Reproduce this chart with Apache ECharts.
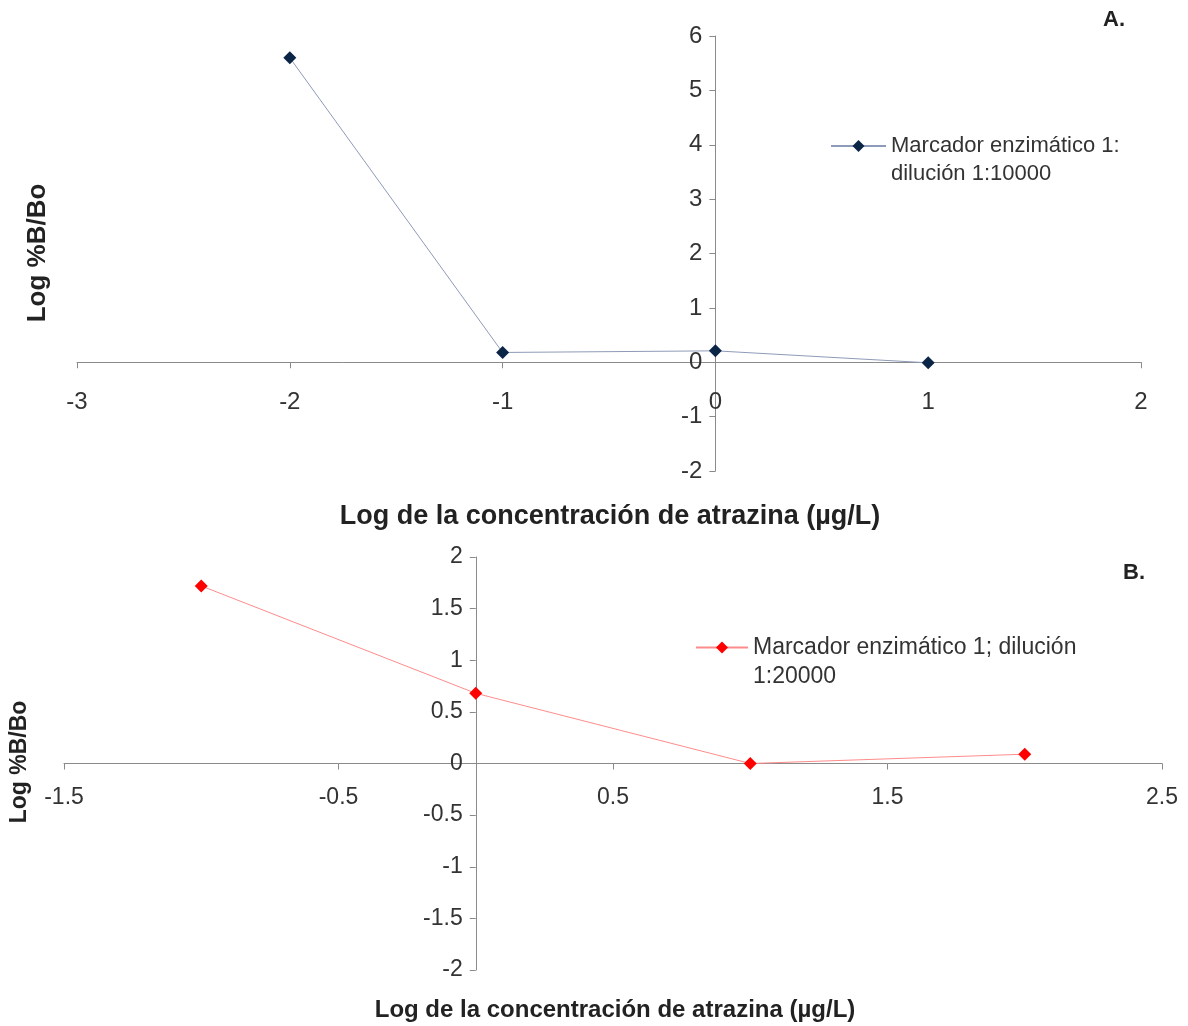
<!DOCTYPE html>
<html><head><meta charset="utf-8">
<script src="https://cdn.jsdelivr.net/npm/echarts@6/dist/echarts.min.js"></script>
<style>html,body{margin:0;padding:0;background:#fff}#c{width:1188px;height:1026px}</style>
</head><body><div id="c"></div>
<script>
// Panel A data
const xA = [-2, -1, 0, 1];
const yA = [5.6, 0.18, 0.21, -0.01];
const nameA = 'Marcador enzimático 1: dilución 1:10000';
const legendLinesA = ['Marcador enzimático 1:', 'dilución 1:10000'];
// Panel B data
const xB = [-1, 0, 1, 2];
const yB = [1.72, 0.68, 0, 0.09];
const nameB = 'Marcador enzimático 1; dilución 1:20000';
const legendLinesB = ['Marcador enzimático 1; dilución', '1:20000'];
// Axis ranges and tick intervals
const xRangeA = [-3, 2], yRangeA = [-2, 6];
const xRangeB = [-1.5, 2.5], yRangeB = [-2, 2];
const xTitle = 'Log de la concentración de atrazina (µg/L)';
const yTitle = 'Log %B/Bo';

const FONT = "'Liberation Sans', Arial, sans-serif";
const AX = '#8a8a8a';
const LBL = '#333';
const W = 1188, H = 1026;

// grid layout (pixels)
const gA = {left: 77, right: 47, top: 36, height: 435};
const gB = {left: 64, right: 26, top: 557, height: 413};
function zeroOffsets(g, xr, yr) {
  const w = W - g.left - g.right;
  const xo = -((0 - yr[0]) / (yr[1] - yr[0])) * g.height;
  const yo = -((0 - xr[0]) / (xr[1] - xr[0])) * w;
  return {xo, yo};
}
const oA = zeroOffsets(gA, xRangeA, yRangeA);
const oB = zeroOffsets(gB, xRangeB, yRangeB);

const chart = echarts.init(document.getElementById('c'), null, {renderer: 'canvas'});

function axisCommon(margin, fs) {
  return {
    type: 'value',
    axisLine: {show: true, onZero: false, lineStyle: {color: AX, width: 1}},
    axisTick: {show: true, inside: false, length: 6, lineStyle: {color: AX}},
    axisLabel: {margin: margin, fontSize: fs, color: LBL, fontFamily: FONT, hideOverlap: false},
    splitLine: {show: false}
  };
}

const option = {
  backgroundColor: '#ffffff',
  animation: false,
  grid: [
    Object.assign({containLabel: false}, gA),
    Object.assign({containLabel: false}, gB)
  ],
  xAxis: [
    Object.assign(axisCommon(28, 24), {gridIndex: 0, position: 'bottom', offset: oA.xo, min: xRangeA[0], max: xRangeA[1], interval: 1}),
    Object.assign(axisCommon(23, 23), {gridIndex: 1, position: 'bottom', offset: oB.xo, min: xRangeB[0], max: xRangeB[1], interval: 1})
  ],
  yAxis: [
    Object.assign(axisCommon(13, 24), {gridIndex: 0, position: 'left', offset: oA.yo, min: yRangeA[0], max: yRangeA[1], interval: 1}),
    Object.assign(axisCommon(13, 23), {gridIndex: 1, position: 'left', offset: oB.yo, min: yRangeB[0], max: yRangeB[1], interval: 0.5})
  ],
  legend: [
    {
      data: [nameA], left: 830, top: 104, padding: 0,
      itemWidth: 55, itemHeight: 15, itemGap: 5,
      formatter: function () { return '\n' + legendLinesA.join('\n'); },
      textStyle: {fontSize: 22, lineHeight: 28, color: LBL, fontFamily: FONT}
    },
    {
      data: [nameB], left: 695, top: 604, padding: 0,
      itemWidth: 52, itemHeight: 15, itemGap: 5,
      formatter: function () { return '\n' + legendLinesB.join('\n'); },
      textStyle: {fontSize: 23, lineHeight: 29, color: LBL, fontFamily: FONT}
    }
  ],
  series: [
    {
      name: nameA, type: 'line', xAxisIndex: 0, yAxisIndex: 0,
      data: xA.map((x, i) => [x, yA[i]]),
      symbol: 'diamond', symbolSize: 13,
      lineStyle: {color: '#8e9bb8', width: 1},
      itemStyle: {color: '#0b2547'}
    },
    {
      name: nameB, type: 'line', xAxisIndex: 1, yAxisIndex: 1,
      data: xB.map((x, i) => [x, yB[i]]),
      symbol: 'diamond', symbolSize: 13,
      lineStyle: {color: '#ff8c8c', width: 1},
      itemStyle: {color: '#ff0000'}
    }
  ],
  graphic: [
    {type: 'text', x: 1114, y: 20, style: {text: 'A.', font: 'bold 22px ' + FONT, fill: '#222', align: 'center', verticalAlign: 'middle'}},
    {type: 'text', x: 1134, y: 573, style: {text: 'B.', font: 'bold 22px ' + FONT, fill: '#222', align: 'center', verticalAlign: 'middle'}},
    {type: 'text', x: 610, y: 517, style: {text: xTitle, font: 'bold 27px ' + FONT, fill: '#222', align: 'center', verticalAlign: 'middle'}},
    {type: 'text', x: 615, y: 1010, style: {text: xTitle, font: 'bold 24px ' + FONT, fill: '#222', align: 'center', verticalAlign: 'middle'}},
    {type: 'text', x: 38, y: 253, rotation: Math.PI / 2, style: {text: yTitle, font: 'bold 26px ' + FONT, fill: '#222', align: 'center', verticalAlign: 'middle'}},
    {type: 'text', x: 20, y: 762, rotation: Math.PI / 2, style: {text: yTitle, font: 'bold 23px ' + FONT, fill: '#222', align: 'center', verticalAlign: 'middle'}}
  ]
};
chart.setOption(option);
</script>
</body></html>
